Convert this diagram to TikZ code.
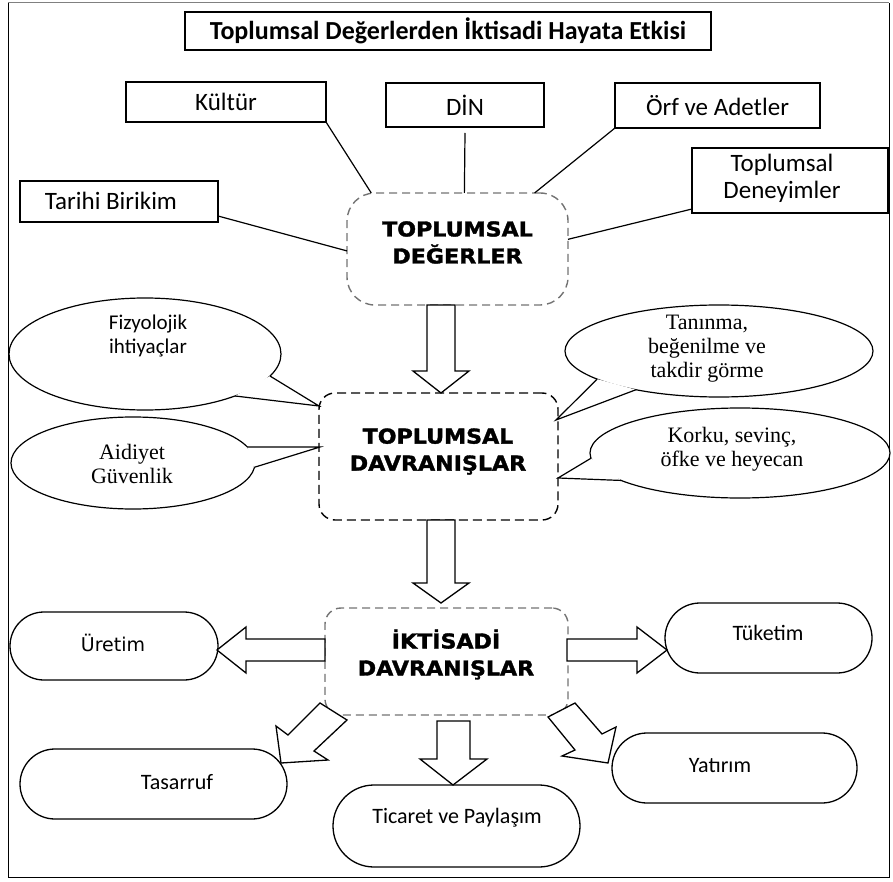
\documentclass[tikz,border=0pt]{standalone}
\usepackage{fontspec}
\setmainfont{Carlito}
\newfontfamily\serifF{Liberation Serif}
\newfontfamily\verdF{DejaVu Sans}
\newfontfamily\heavyF[FakeStretch=1.08,FakeBold=1.6]{DejaVu Sans}
\usetikzlibrary{shapes.geometric}
\begin{document}
\begin{tikzpicture}[x=1pt,y=-1pt,
  every node/.style={inner sep=0pt,outer sep=0pt},
  rbox/.style={draw,line width=1.2pt,fill=white,font=\fontsize{25}{28}\selectfont,align=center},
  txt/.style={font=\fontsize{25}{27}\selectfont,align=center},
  dashgray/.style={draw=black!55,line width=1.4pt,dash pattern=on 8pt off 5pt},
  dashblack/.style={draw=black,line width=1.4pt,dash pattern=on 9pt off 5pt},
  heavy/.style={font=\heavyF\bfseries\fontsize{20.5}{27}\selectfont,align=center},
  oval/.style={ellipse,draw,line width=1.2pt,fill=white},
  tail/.style={draw,fill=white,line width=1.2pt,line join=miter},
  sanst/.style={font=\fontsize{21}{24}\selectfont,align=center},
  seriftext/.style={font=\serifF\fontsize{22}{24}\selectfont,align=center},
  pill/.style={draw,line width=1.3pt,fill=white},
  pilltext/.style={font=\fontsize{22}{24}\selectfont},
  barrow/.style={draw,fill=white,line width=1.3pt,line join=miter},
  link/.style={line width=1.2pt}
]
\useasboundingbox (0,0) rectangle (893,882);
% frame
\draw[line width=1pt] (8,3) -- (8,877) -- (889,877) -- (889,3);
\draw[line width=1pt,black!50] (8,3) -- (889,3);

% title
\node[rbox,minimum width=526pt,minimum height=38pt,font=\bfseries\fontsize{26}{28}\selectfont] (title) at (448,31) {Toplumsal Değerlerden İktisadi Hayata Etkisi};

% top boxes
\node[rbox,minimum width=200pt,minimum height=40pt] (kultur) at (226,102) {Kültür};
\node[rbox,minimum width=158pt,minimum height=44pt] (din) at (465,105) {DİN};
\node[rbox,minimum width=205pt,minimum height=45pt] (orf) at (717.5,105.5) {Örf ve Adetler};
\node[rbox,minimum width=196pt,minimum height=65pt] (deney) at (790,180.5) {};
\node[txt] (deneyT) at (782,178) {Toplumsal\\Deneyimler};
\node[rbox,minimum width=198pt,minimum height=41pt] (tarihi) at (119,201.5) {};
\node[txt] (tarihiT) at (111,201) {Tarihi Birikim};

% TOPLUMSAL DEGERLER
\node[dashgray,rounded corners=28pt,minimum width=221pt,minimum height=112pt] (degerler) at (457.5,249) {};
\node[heavy] (degT) at (457.5,242.5) {TOPLUMSAL\\DEĞERLER};

\draw[link] (kultur.south east) -- (degerler.147);
\draw[link] ([yshift=-6pt]din.south) -- (degerler.83);
\draw[link] (orf.south west) -- (degerler.36);
\draw[link] ([yshift=4pt]deney.south west) -- (degerler.5);
\draw[link] ([yshift=6pt]tarihi.south east) -- (degerler.181);

% TOPLUMSAL DAVRANISLAR
\node[dashblack,rounded corners=16pt,minimum width=239pt,minimum height=127pt] (davr) at (438.5,456.5) {};
\node[heavy] (davrT) at (438,451.5) {TOPLUMSAL\\DAVRANIŞLAR};

% arrow 1
\draw[barrow] (427,305) -- (427,371) -- (413,371) -- (441,393) -- (469,371) -- (455,371) -- (455,305) -- cycle;

% callouts
\node[oval,minimum width=272pt,minimum height=112pt] (fiz) at (145,354) {};
\node[sanst] (fizT) at (148,336) {Fizyolojik\\ihtiyaçlar};
\coordinate (fizTip) at (319,406);
\draw[tail] (fiz.-10) -- (fizTip) -- (fiz.-25);

\node[oval,minimum width=244pt,minimum height=92pt] (aid) at (133,463) {};
\node[seriftext] (aidT) at (132,464) {Aidiyet\\Güvenlik};
\coordinate (aidTip) at (320,447);
\draw[tail] (aid.8) -- (aidTip) -- (aid.-2);

\node[oval,minimum width=308pt,minimum height=92pt] (tan) at (719,351) {};
\node[seriftext] (tanT) at (707,349) {Tanınma,\\beğenilme ve\\takdir görme};
\coordinate (tanTip) at (556,420);
\draw[tail] (tan.193) -- (tanTip) -- (tan.205);

\node[oval,minimum width=300pt,minimum height=90pt] (kor) at (740,453) {};
\node[seriftext] (korT) at (732,449) {Korku, sevinç,\\öfke ve heyecan};
\coordinate (korTip) at (558,478);
\draw[tail] (kor.182) -- (korTip) -- (kor.193);

% arrow 2
\draw[barrow] (427,520) -- (427,583) -- (413,583) -- (441,603) -- (469,583) -- (455,583) -- (455,520) -- cycle;

% IKTISADI DAVRANISLAR
\node[dashgray,rounded corners=16pt,minimum width=243pt,minimum height=107pt] (iktisadi) at (446.5,661.5) {};
\node[heavy] (iktT) at (446,654.5) {İKTİSADİ\\DAVRANIŞLAR};

% outputs
\node[pill,rounded corners=34pt,minimum width=208pt,minimum height=68pt] (uretim) at (114,646) {};
\node[font=\verdF\fontsize{19}{22}\selectfont] (uretimT) at (113,643) {Üretim};
\node[pill,rounded corners=35pt,minimum width=207pt,minimum height=70pt] (tuketim) at (768.5,638) {};
\node[pilltext] (tuketimT) at (768,633) {Tüketim};
\node[pill,rounded corners=35pt,minimum width=267pt,minimum height=70pt] (tasarruf) at (153.5,784) {};
\node[pilltext] (tasarrufT) at (177,782) {Tasarruf};
\node[pill,rounded corners=35pt,minimum width=245pt,minimum height=70pt] (yatirim) at (734.5,768) {};
\node[pilltext] (yatirimT) at (720,766) {Yatırım};
\node[pill,rounded corners=41pt,minimum width=247pt,minimum height=82pt] (ticaret) at (456.5,826) {};
\node[pilltext] (ticaretT) at (457,818) {Ticaret ve Paylaşım};

% block arrows from iktisadi
\draw[barrow] (325,639) -- (246,639) -- (246,627) -- (217,650) -- (246,673) -- (246,661) -- (325,661) -- cycle;
\draw[barrow] (567,639) -- (637,639) -- (637,627) -- (667,650) -- (637,673) -- (637,661) -- (567,661) -- cycle;
\draw[barrow] (437,721) -- (437,759) -- (420,759) -- (453,785) -- (487,759) -- (470,759) -- (470,721) -- cycle;
\draw[barrow] (320,703) -- (288,735) -- (276,726) -- (281,763) -- (328,760) -- (314,751) -- (347,720) -- cycle;
\draw[barrow] (548,717) -- (575,750) -- (562,756) -- (608,763) -- (616,727) -- (602,734) -- (575,703) -- cycle;
\end{tikzpicture}
\end{document}
